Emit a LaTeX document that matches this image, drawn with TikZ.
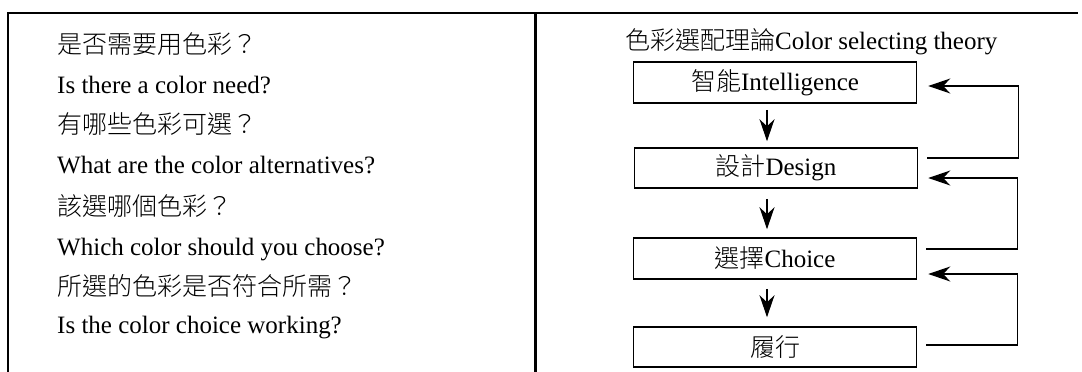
\documentclass[tikz,border=0pt]{standalone}
\usepackage{fontspec}
\setmainfont{Liberation Serif}
\newfontfamily\cjk{Noto Sans CJK TC Light}
\usetikzlibrary{arrows.meta}
\newcommand\zh[1]{{\cjk #1}}
\begin{document}
\begin{tikzpicture}[x=1pt,y=-1pt,
  every node/.style={font=\fontsize{25}{30}\selectfont, inner sep=0pt},
  txt/.style={anchor=base west},
  stage/.style={draw, line width=1.5pt, minimum width=283pt, minimum height=41pt},
  frame/.style={line width=2.5pt},
  flow/.style={line width=1.2pt, -{Stealth[length=22pt,width=15pt,inset=7pt]}},
  fb/.style={line width=1.2pt, -{Stealth[length=22pt,width=15pt,inset=7pt]}}]
\useasboundingbox (0,0) rectangle (1082,372);
% frame
\draw[frame] (8,372) -- (8,13) -- (1078,13);
\draw[line width=3pt] (535,13) -- (535,372);
% left column
\node[txt] (q1) at (57,53) {\zh{是否需要用色彩？}};
\node[txt] (e1) at (57,93) {Is there a color need?};
\node[txt] (q2) at (57,133) {\zh{有哪些色彩可選？}};
\node[txt] (e2) at (57,173) {What are the color alternatives?};
\node[txt] (q3) at (57,215) {\zh{該選哪個色彩？}};
\node[txt] (e3) at (57,255) {Which color should you choose?};
\node[txt] (q4) at (57,295) {\zh{所選的色彩是否符合所需？}};
\node[txt] (e4) at (57,333) {Is the color choice working?};
% right column
\node[txt] (title) at (625,49) {\zh{色彩選配理論}Color selecting theory};
\node[stage] (b1) at (775,82.5) {\zh{智能}Intelligence};
\node[stage, minimum height=40pt] (b2) at (776,168) {\zh{設計}Design};
\node[stage] (b3) at (775,258.5) {\zh{選擇}Choice};
\node[stage, minimum height=40pt] (b4) at (775,347) {\zh{履行}};
% down arrows
\draw[flow] ([xshift=-8pt,yshift=-6pt]b1.south) -- ([xshift=-9pt,yshift=6pt]b2.north);
\draw[flow] ([xshift=-9pt,yshift=-10pt]b2.south) -- ([xshift=-8pt,yshift=8pt]b3.north);
\draw[flow] ([xshift=-8pt,yshift=-9pt]b3.south) -- ([xshift=-8pt,yshift=9pt]b4.north);
% feedback loops
\draw[fb] ([shift={(9pt,10pt)}]b2.east) -- ++(91,0) |- ([shift={(11pt,-3.5pt)}]b1.east);
\draw[fb] ([shift={(9pt,9.5pt)}]b3.east) -- ++(91,0) |- ([shift={(10pt,-10pt)}]b2.east);
\draw[fb] ([shift={(9pt,2pt)}]b4.east) -- ++(91,0) |- ([shift={(11pt,-15.5pt)}]b3.east);
\end{tikzpicture}
\end{document}
